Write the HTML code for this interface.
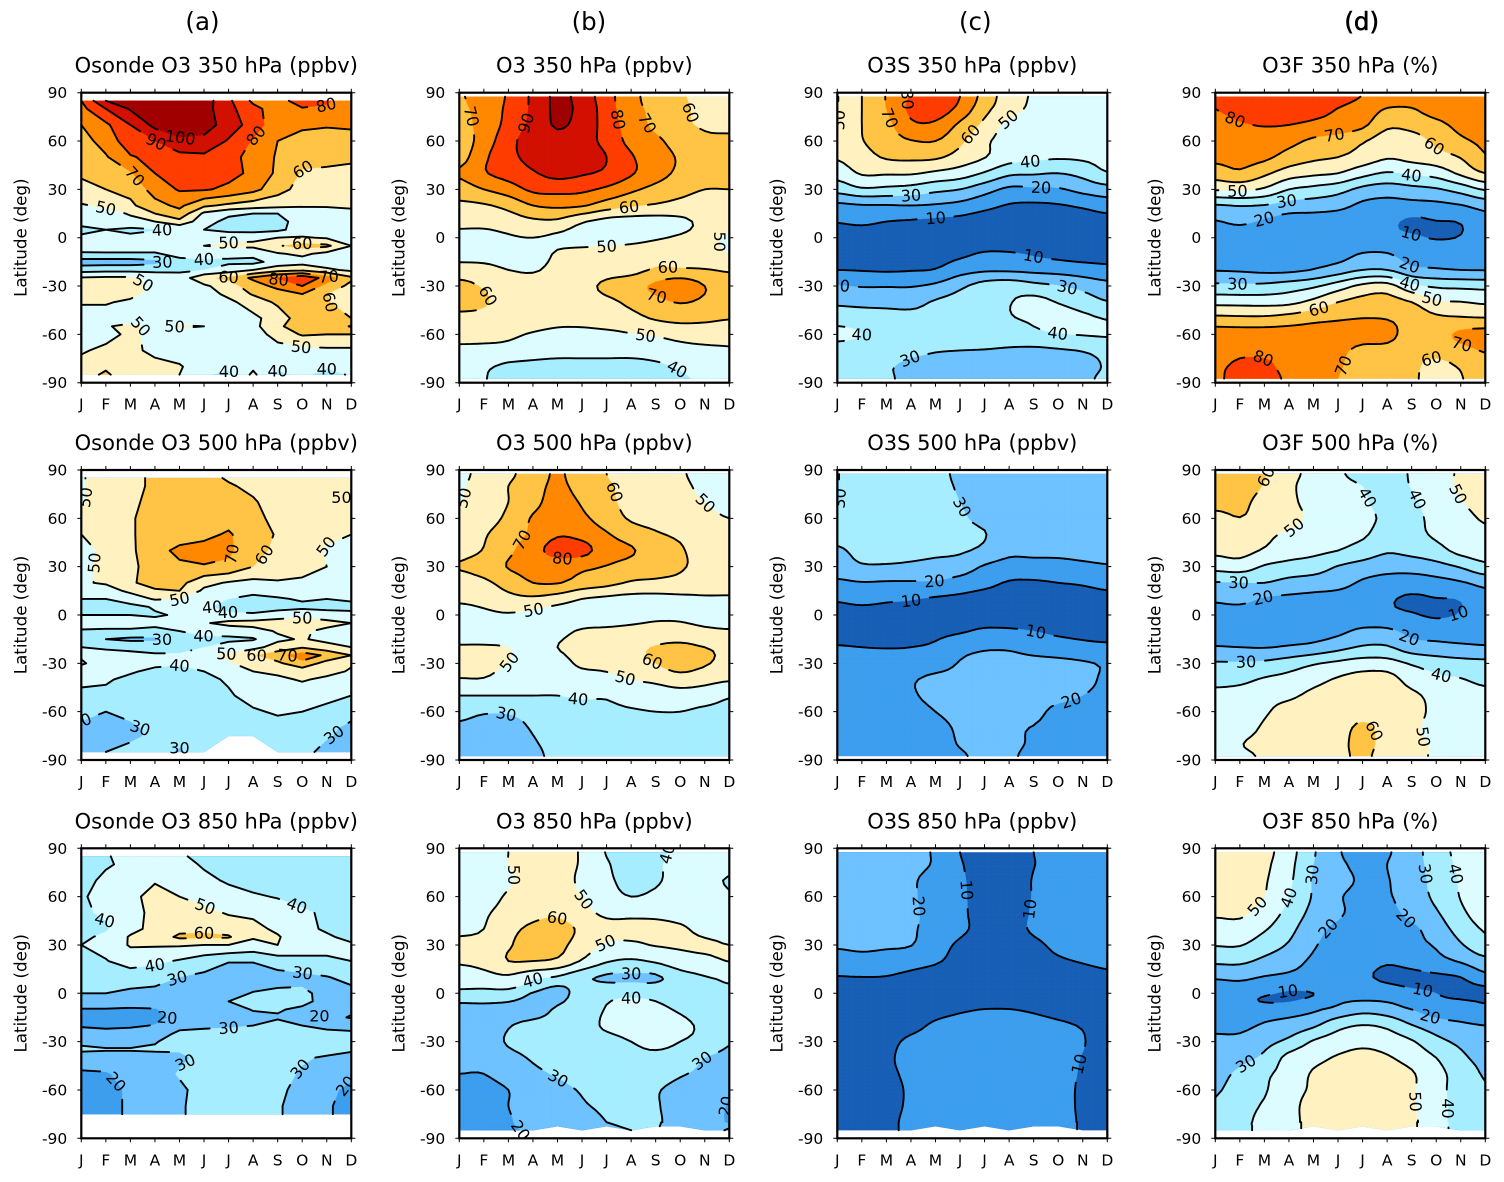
<!DOCTYPE html>
<html lang="en">
<head>
<meta charset="utf-8">
<title>Ozone latitude-month contour panels</title>
<style>
html,body{margin:0;padding:0;background:#fff;}
#figure{display:block;width:1504px;height:1182px;}
text{font-family:"DejaVu Sans","Liberation Sans",sans-serif;fill:#000;}
</style>
</head>
<body>
<svg id="figure" xmlns="http://www.w3.org/2000/svg" width="1504" height="1182" viewBox="0 0 1504 1182"></svg>
<script>
const NA = NaN;
const months = ['J','F','M','A','M','J','J','A','S','O','N','D'];
const latTicks = [90,60,30,0,-30,-60,-90];
const levels = [0,10,20,30,40,50,60,70,80,90,100];
const columnLetters = ['(a)','(b)','(c)','(d)'];

const latsStd = [87.5,80,70,60,50,40,30,20,10,0,-10,-20,-30,-40,-50,-60,-70,-80,-87.5];
const latsSonde350 = [85,80,70,60,50,40,30,20,15,10,5,0,-5,-10,-15,-20,-25,-30,-35,-40,-50,-55,-60,-70,-80,-85];
const latsSonde500 = [85,80,70,60,50,40,30,20,15,10,5,0,-5,-10,-15,-20,-25,-30,-35,-40,-50,-60,-70,-75,-85];
const latsSonde850 = [85,80,70,60,50,40,35,30,20,10,0,-5,-10,-15,-20,-25,-30,-35,-40,-50,-60,-70,-75];
const latsO3850 = [87.5,80,70,60,50,40,30,20,10,5,0,-10,-20,-30,-40,-50,-60,-70,-80,-82.5,-85];
const latsO3S850 = [87.5,80,70,60,50,40,30,20,10,0,-10,-20,-30,-40,-50,-60,-70,-80,-82.5,-85];
const latsO3F850 = [87.5,80,70,60,50,40,30,20,10,0,-5,-10,-20,-30,-40,-50,-60,-70,-80,-82.5,-85];

const sonde350 = [
[80,100,105,110,112,105,92,78,75,86,81,76],
[77,90,101,108,110,104,93,83,75,79,79,74],
[70,78,90,103,110,105,95,86,73,72,71,72],
[66,74,86,90,97,97,89,79,70,66,65,65],
[63,69,79,83,87,88,84,76,69,63,63,62],
[61,64,69,80,84,84,83,78,68,59,58,57],
[58,60,63,74,81,81,78,73,64,56,54,53],
[49,52,58,67,72,62,58,55,53,51,51,52],
[46,46,51,60,67,48,42,40,40,45,46,47],
[44,44,47,50,57,44,37,36,37,44,45,45],
[37,40,38,39.5,41,40,37,36,38,44,45,45],
[42,43,42,43,44,45,47,48,50,51,49,46],
[44,45,45,45,46,50,52,52,59,64,62,50],
[39,39,39,39,43,44,43,43,49,52,47,46],
[25,25,25,27,37,38,38,37,44,46,44,44],
[36,37,37,37,38,40,45,50,56,58,52,48],
[51,52,52,47,44,58,62,72,81,88,76,62],
[56,59,55,47,44,48,56,65,73,80,67,57],
[56,58,53,46,42,46,52,61,65,70,60,53],
[51,51,48,44,41,42,48,54,62,65,61,54],
[45,45,44,43,43,44,45,48,54,66,63,60],
[44,49,53,46,51,50,44,47,58,66,62,71],
[43,47,52,47,46,45,44,45,54,61,60,60],
[49,52,54,46,45,43,44,43,46,47,48,48],
[53,58,54,55,51,44,42,48,42,44,41,43],
[55,62,52,53,50,41,38,52,38,42,37,41]];
const sonde500 = [
[49,55,57,62,66,63,59,56,55,54,53,53],
[49,55,57,62,65,64,61,58,55,54,53,53],
[49,55,58,63,65,65,64,61,56,54,54,53],
[51,54,59,64,66,67,67,63,57,54,53,53],
[50,53,59,64,66,68,71,65,59,56,52,50],
[47,52,58,67,72,73,72,63,58,55,49,48],
[48,52,58,64,68.5,69.5,68,60,56,54,50,48],
[49,51,58,66,63,53,49,47,49,48,49,48],
[45,46,52,58,60,48,45,42,44,44,45,45],
[40,40,45,51,50,42,40,38,39,41,40,41],
[36,35,37,41,41,41,38,37,37,38,38,38],
[40,40,40,39,41,43,41,41,44,46,43,42],
[44,45,45,43,46,49,53,54,56,58,54,50],
[39,38,38,37,40,43,44,46,51,52,47,45],
[33,30,28,28,35,38,38,39,48,51,47,45],
[40,38,37,37,37,40,44,47,54,59,54,50],
[49,45,43,41,41,48,52,59,66,76,68,60],
[51,46,43,42,41,46,49,54,58,67,56,51],
[46,44,41,38,37,40,44,50,52,54,53,49],
[42,41,38,37,36,38,41,45,48,51,48,46],
[38,38,36,36,36,37,39,43,44,44,42,40],
[33,30,33,34,35,36,38,39,41,40,38,33],
[28,27,28,33,34,34,35,36,37,35,32,28],
[27,26,28,32,33,33,34,34,34,33,31,27],
[26,30,33,33,29,34,NA,NA,35,33,27,27]];
const sonde850 = [
[38,39.5,42,44,41,38,37,36,36,36,36,36],
[37,39,42,44,43,39,37,36,36,36,36,36],
[37,42,44,49,47,42,39,37,36,36,36,36],
[39,43,47,54,50,46,43,41,39.5,38,37,37],
[39,41,46,53,56,53,49,48,44,41,39,37],
[36,39,47,53,57,58,56,53,48,42,39,37],
[38,42,51,54,62,62,61,51,51,43,41,38],
[40,43,51,51,51,50,50,47,50,44,42,41],
[39,39.5,44,42,39,34.5,30.5,30.5,35,38,39,40],
[34,34,35,34,30,28,25,25,26,27,29.5,33],
[30,30,28,27,26,25,27,30.5,32,32,27,27],
[25,25,24,24,24,26,30,33,35,33,26,24],
[19.5,19.5,19,19.5,24,25,27,30.5,31,28,23,21],
[16,16,15,17,23,25,26.5,28,29,27,22,19.5],
[19,18,18.5,20.5,27,28,28.5,30,33,30,26,24],
[24,23,24,25,32,33,34,35,38,36,34,33],
[29,28,28,29.5,33,34,35,36,37,36,35,34],
[31,30.5,30.5,31,31,35,36,36,36,35,33,30.8],
[27,27,27,27,28,33,36,36,35,31,29,28],
[18,19,24,25,31,34,35,35,33,29,25,22],
[17,18,21,26,28,34,35,35,32,27,22,18],
[17,18,21,26,29,33,34,34,31,26,21,17],
[17,18,21,27,29,33,34,34,31,26,21,17]];

const o3350 = [
[69,75,81,92,102,96,84,73,66,61,58,58],
[68,74,82,92,102,97,85,73,68,62,58,58],
[66,74,83,93,101,96,86,75,68,62,59,58],
[64,75,86,96,97,94,87,77,72,66,62,62],
[66,78,87,93,96,95,90,81,74,69,65,64],
[71,79,84,89,93,91,88,81,74,68,65,64],
[65,70,75,82,83,82,78,72,67,63,60,60],
[58,59,63,70,72,71,65,61,59,57,56,56],
[53,53,55,58,58,51,47,46,46,48,52,53],
[47,47,49,50,48,46,46,47,49,51,52,49],
[48,48,48,46,51,53,54,55,57,56,54,50],
[53,52,50,49,53,54,56,57,61,61,60.5,59],
[64,59,56,55,55,57,62,66,72,77,70,64],
[64,61,56,55,55,56,58,62,67,70.5,68,64],
[57,57,55,54,52.5,53,55,57,61,63,62,60.5],
[53,53,51.5,49.3,48,47.6,48,49.5,51,53,54,53],
[48,47.5,47,45,44,44,44,44,45,47,48,49],
[43,41.5,38,37,36,36,36,36,38,41,43,44],
[42,40.5,36,35,34,34,34,34,36,39,41,42]];
const o3500 = [
[48,53,58,65,71,65,60,57,54,51,47,45],
[49,54,60,66,72,66,61,58,55,52,48,46],
[49.5,55,60,67,74,69,62,58,56,53,50,48],
[50.5,56,62,71,75,72,65,59,57,55,52,50],
[53,59,65,72,79,77,71,65,61,58.5,55,53],
[57,60.5,68,76,84,83,75,71,65,61,56,54],
[60.5,64,70.5,73,74,72,69.5,66,64,61,57,55],
[55.5,58,64,70,70.5,66,63,59,58,57,54,53],
[51.5,53,57,58,55,50,48,47,47,48,49,49],
[46,48,49,47,44,44,44,46,48,48,46,44],
[44,44,44,43,47,51,52,53,54,54,52,51],
[51,51,50,46,50,54,56,58,60.5,62,60,58],
[53,52,50,45,46,52,53,57,60,65,61,57],
[49.5,49.5,46,45,44,45,47,50,52,55,53,51],
[40,40,40,40,40,41,41,44,45,46,45,41],
[33.5,31,31,34,36,37,38,39,40,40,38,37],
[28,26,26,31,35,36,36,36,36,36,36,35],
[25,24,25,29,33,34,34,34,34,34,34,34],
[24,23,24,28,32,33,33,33,33,33,33,33]];
const o3850 = [
[42,46,50,52,53,49,39.5,36,38,42,42,42],
[42,46,50,52,53,49,41,36,39,42,42,42],
[43,46,49,53,54,48,42,37,39,43,42,39.5],
[45,47,51,55,54,50,44,40,42,44,44,41],
[47,49,53,57,58,53,48,48,48,47,46,45],
[48.5,50,57,62,64,58,53,52,52,51,48,47],
[51.5,53,59,64,63,55,49,48.5,50.5,51,51,50],
[51,53,60,60,58,49,41,38.7,41.3,46,48,50.2],
[45,47,48.5,43,39,33,28.5,28.5,28.5,36,39.5,42],
[42,42.5,44,36,30.5,33,32,32,32,37,38,39.5],
[37,36,35,29.5,27,34,38,38.8,38,36,35,35],
[26,27,27,27,31,35,40.5,42,41.5,39,35,34],
[25,25,29.5,32,33,37,41,43,43,42,38.5,38],
[24,25,31,34,36,38,38,40,42,40,37,31],
[22,23,27,31,34,36,38,38,38,36,30,28],
[20,20,24,28,31,35,37,37,35,31,28,26],
[16,17,20,25,27,31,35,36,31,27,25,21],
[16,17,20,25,26,29,32,36,31,26,24,19.5],
[15,16,19,24,26,27,30,32,31.5,25,23,19.5],
[15,16,19,22,25,26,29,31,31,25,23,20.5],
[15,16,19,21,NA,25,NA,30,NA,NA,22,19.5]];

const o3s350 = [
[49.7,60,70.5,81,86,80,66,55,49,47,46,45],
[49.7,60,70,82,85,77,63,54,48,46,45,44],
[49.7,60,67,78,78,68,57.5,47.5,46,45,44,43],
[52,59.5,65,69.5,70,62,52,46,44,44,44,44],
[50.8,56,61,62,61.5,56,50.4,44,42,41,41.5,43],
[44,51,51,51,48,45,39,32,31,30,33,39.5],
[33.5,38.5,37.5,36,32.5,30,24,18,18.5,19,23,26],
[17.8,19.3,19.5,20,19,17,13,9.3,8.5,9.3,11.5,14.4],
[10.5,12,10,9,8,7,5,4,4,4,5,6.5],
[5,4,4,4,4,4,4,3,3,3,4,4],
[6,6,6,6,6,8,11,11,9,7,6,6],
[10,9.5,9,9.5,10.5,16,18.5,18.5,17.5,16.5,14.7,12.9],
[20.5,19.5,19.5,19.5,22,28,34,36,33,30.5,27,23.3],
[28,27,27,27,31,34,37,39.5,43,39.5,35,30.5],
[37,36,34,33,33,36,37,39.5,41,44,42,39.5],
[41.5,40,36,35,35,36,37,37,38,39.5,40.5,41],
[37,36,34,32,30.5,30,29.5,28.5,28,29,30.5,33],
[34,33,31,28,27,26,25,25,25,25,26,31],
[34,33,31.5,27,26,25,25,25,25,25,27,33]];
const o3s500 = [
[29.7,35,35,34,33,28,27,26,26,26,26,26],
[29.7,35,35,34,33,29,27,26,26,26,26,26],
[29.7,35,35,34,33,30,27,26,26,26,26,26],
[31,35,34,34,33,31,28,26,26,26,26,26],
[32,33,34,34,33,32,30.3,26,25,25,25,25],
[29,32,33,33,32,31,28,22.5,23,23,24,25],
[26,29,29,28,26.6,25,19,16,15.5,16,17.5,19],
[18,19.5,19,19,19,16,13,9.2,9,10,11,13],
[11,12.5,11.3,10.5,9,8,6,5,5,5,6,7],
[7,7,7,7,7,6,5,4,4,5,5,5],
[7,7,7,7,8,9,11.5,11.5,10,8,7,6],
[10.5,10,9.7,10,11.5,17,19,19,17,15,13,12],
[14,14,14,14,16,20.5,22,22,22,22,21,19],
[15,15,16,19,22,22,23,23,23,23,23,18],
[15,15,16,19,22,23,23,23,23,22,20,17],
[15,15,16,17,20,22,23,22.5,22,18,17,16],
[14,14,15,16,18,21,23,21,19.7,17,16,15],
[14,14,15,16,17,20.5,23,21.5,19,16,15,15],
[14,14,15,16,17,19,22,21,18,16,15,15]];
const o3s850 = [
[25,25,24,22,19,10,5,5,10,12,12,12],
[25,25,24,22,19,11,5,5,9.8,12,12,12],
[25,25,24,21,17,12,4,5,10.5,13,13,13],
[25,25,24,21,17,12.5,4,5,10.5,13,13,13],
[25,25,24,21,18,12.5,5,5,11,13,13,13],
[25,25,24,21,17,12,7,7,11,13,13,13],
[21.5,22.5,21.5,20.3,14,8.5,5,6,8.5,11.5,13,13.5],
[14.5,16,15,13.5,11,7,4,5,7,9,10.5,11.5],
[9.7,9.9,9.7,8,6,5,4,4,4,5,7,8.5],
[7,7,7,6,5,5,5,5,5,5,5,6],
[7,7,7,7,8,9.2,10.1,10.1,9.2,8,7,6],
[7,7,7,8.5,10.8,12,13,13,12,11,9.6,8],
[7,7,8.5,11,12,13,14,14,14,13,10.3,8],
[7,7,9.2,11.5,13,14,14,14,14,12,9.8,8],
[7,7,9,11,13,14,14,14,14,12,9.5,8],
[7,7,8.5,10.7,13,14,14,14,14,12,9.2,8],
[7,7,8.7,10.7,13,14,14,14,14,12,9.2,8],
[7,7,9,11,13,14,14,14,14,12,9.4,8],
[7,7,9,11,13,14,14,14,14,12,9.4,8],
[7,7,9,11,NA,14,NA,14,NA,NA,9.4,8]];

const o3f350 = [
[81,86,87,87,86,83,79.7,76,75,77,80,78],
[80,84,86,85,83,79.8,76,69.5,69.5,75,77,76],
[76,79,80.5,80,78,76,72,62,63,67,73,76],
[73,77,76,73,68,65.5,61,55,56,62,68,72],
[72,73,72,66,62,60,56,51,53,56,60.5,69],
[65,68,62,55,52,50,43.5,39,41.6,44,52,60],
[51,52,48.5,40,37,33.8,27.4,25,27,29,34,41],
[29,30.5,29.5,26,25,23,18,16.4,16.8,17.5,19.5,23.7],
[19.5,21.5,18.7,15.5,15,14.5,14,12,8.5,9.7,10.5,16],
[16,16,16,15,14,14,13,12,11,9.6,10.4,14],
[17,16.5,16,15,15,16,20.5,20.5,15,15,15,16],
[19.5,19,18,18,20.5,25,30,30,23,21,20,19.7],
[32.5,32,32.5,35,38.4,45,52.4,54,42.5,38.6,37.7,37],
[47,46.8,46.5,47.5,52.8,60,63.5,64,60,51.5,50.3,48.5],
[62.5,62,62,64,67,69,70,69.5,66,62,61,60.5],
[75,75,75,75,75,74,73,74,64,66,72,74],
[75,78,78,78,77,72,68,66,62,63,67,70.7],
[78,82,82,77,75,71,66,64,62,57,61,66],
[78,84,84,78,73,70,66,64,62,55,59.5,64]];
const o3f500 = [
[64,63,60.5,53,47,41.5,37,36,41,47,51,55],
[64,63,59.5,52,46,43,40,36,40.5,47,51,54],
[63,62,57,52,47,44,41.5,36,38.5,44,49.5,53],
[57,59.8,56,53,48,45,43,38,38,42.5,47,51],
[54,55,52,48.5,46,44,41.5,35,37,41.5,45,48],
[52,53,49,45,42.5,40,35.5,31,33,36.5,43,46],
[43.5,45,39,36.3,34.5,29.5,26.3,24,24,26.5,30.8,37],
[29.4,29.7,30,27,25.5,24,18.5,15.5,15,16.5,19,23],
[21.5,23,19,18,17,15.5,13,11,8.8,9.7,10.5,16],
[16,15,15,14.5,15,14.5,13,12,10.7,9,10.5,14],
[16,15.5,15.5,15,15.5,17.8,22,22,17,16,15,15],
[20.5,20,19.6,21,23,27,31,31,24.5,23,22,21],
[31,31,32,35,39,42,44.4,44,39,35.5,33.5,32.5],
[36.5,37.5,41,43.3,47,51,54,54,46,42,40.5,37.5],
[43,44,47,48.5,52,54,55,55,52,47,45,43],
[44,45,49,53,54,55,56,56,53,48,46,44],
[44,46.5,51,54,55,56,62,56,52,47,45,44],
[44,49.5,52,54,55,57,63,56,52,49,46,44],
[44,48,51,53,55,57,62,55,52,49,46,44]];
const o3f850 = [
[57,56,53,44,31,21,16,19,26,35,43,46],
[57,56,52,43,30,22,18,20,26,34,42,46],
[57,56,51,42,29,23,19,19.5,25.5,33,41,47],
[56,55,50,40,29,21,18,19,25,32,40.5,47],
[52,52,46,37,27,21.5,16.5,17,23,29,38,45],
[45,46,41,33,23.5,18,15,15,18,25,34,41],
[40.5,40.5,35,29,21,16,13,13,17.5,21,29,37],
[32,32,27.7,23.6,18.5,15.5,13,10.7,13,17,21,27],
[21,22,19.5,18,16.5,15,11.5,8.5,8,8.5,10,17],
[15,14.5,11.5,9,10,14,15,14,11.5,10,7,6],
[16,13,9.5,9.7,13,18.5,20.5,19.5,16,12,11,9.5],
[17,16,16,16,18.5,23,27,25,20,15,13,11.5],
[18,18,21,24,28.5,37,40.3,38,30.5,25,22,20],
[22,22.5,27,32.4,41,45,47.5,45.5,41,33,28,25],
[24,27,32,43,47,51,53,51,46,40,32,27],
[27,32,38,44,51,54,56,55,51,43,36,29],
[29,34,39,47,51,54,56,55,51,44,35,31],
[31,37,41,48,52,55,56,55,51,44,36,32],
[32,38,42,48,52,55,56,55,52,43,37,33],
[32,38,42,48,52,55,56,55,52,43,37,33],
[32,38,42,48,NA,55,NA,55,NA,NA,37,33]];

const labelsSonde350 = [[100,4.05,60],[90,3,58],[80,6.9,66],[80,10,79],[70,2.1,37],[60,9,46.6],[50,1.05,23],[40,3.3,4],[50,6,-2.5],[60,9,-1],[40,5,-12],[30,4.1,-15],[50,2.9,-24],[60,6,-24],[80,8,-28],[70,10.1,-22],[60,10,-42],[50,2.5,-54],[50,3.6,-56],[50,9,-64],[40,6,-83],[40,8,-79],[40,10,-78]];
const labelsSonde500 = [[50,0.2,73],[50,10.6,73],[50,0.25,33],[50,9.8,44.5],[70,6.4,35],[60,7.7,34],[50,4,10],[40,5,8],[40,6,3],[50,9,0],[30,3.5,-17],[40,5,-11.5],[50,5.9,-23],[60,7,-23],[70,8.1,-24],[40,4,-29],[30,3.1,-64],[30,4,-79],[30,10.4,-75.6],[30,-0.05,-80]];
const labelsSonde850 = [[40,1,46.5],[50,5,52],[60,5,38],[40,8.8,55],[40,3,16.5],[30,4,5.5],[30,9,11],[20,4,-11.5],[20,9.7,-14],[30,6,-21],[30,4.5,-46.6],[30,8.8,-45.6],[20,1.5,-54],[20,10.7,-56]];
const labelsO3350 = [[70,0.7,76],[90,2.3,73],[80,6.65,74],[70,7.85,72],[60,9.7,78],[60,6.9,21],[50,6,-4.6],[50,10.5,-2.5],[60,8.5,-18],[60,1.35,-35],[70,8.05,-35.7],[50,7.6,-59.5],[40,9,-77]];
const labelsO3500 = [[50,0.27,72.4],[60,6.4,76.5],[50,10,69],[70,2.4,48.7],[80,4.2,35],[50,3,5],[50,2.4,-32],[60,7.85,-29],[50,6.8,-37],[40,4.85,-51],[30,1.9,-63]];
const labelsO3850 = [[50,2.05,72.4],[40,8.35,87],[50,5.05,58],[60,4,49.6],[50,5.9,33],[40,3,8],[30,7,13],[40,7,-2],[30,4.1,-50.8],[30,10,-43.5],[20,2.6,-85],[20,10.85,-70]];
const labelsO3S350 = [[50,0.1,73],[70,2.1,74],[80,2.95,85.5],[50,6.85,76],[60,5.35,65],[40,7.85,50],[30,3,27],[20,8.3,32.7],[10,4,13.6],[10,8,-10.8],[20,0.1,-29.5],[30,9.4,-29],[40,1.6,-57.4],[40,9,-57.4],[30,3,-77]];
const labelsO3S500 = [[30,0.1,72.4],[30,5.15,67.5],[20,3.95,23],[10,3,9.5],[10,8.1,-9.5],[20,9.5,-51.5]];
const labelsO3S850 = [[20,3.3,54],[10,5.2,64],[10,8,52],[10,9.9,-44]];
const labelsO3F350 = [[80,0.7,69],[70,4.8,69],[60,8.9,56.5],[50,0.9,28.5],[40,8,40],[30,2.9,23],[20,1.95,13.4],[10,8,4],[20,8,-14],[30,0.9,-29],[40,8,-25],[50,8.95,-32.5],[60,4.2,-43],[70,10.1,-63.6],[60,8.8,-74],[80,1.95,-75.6],[70,5.1,-79]];
const labelsO3F500 = [[60,2,86],[50,3,61.5],[40,6.4,74],[40,8.4,73.5],[50,10.15,77.6],[30,0.95,20],[20,1.95,10.5],[10,10,-1],[20,8,-11],[30,1.25,-28],[40,9.25,-34.4],[60,6.25,-73],[50,8.8,-73]];
const labelsO3F850 = [[50,1.65,55],[40,2.95,59.6],[30,4.05,73.4],[30,8.7,74.5],[40,9.9,74.5],[20,4.8,36.8],[20,7.8,47],[10,2.95,2],[10,8.45,2],[20,8.8,-12],[30,1.13,-40.4],[50,8.4,-67.3],[40,9.7,-71.5]];

const titles = [
['Osonde O3 350 hPa (ppbv)','O3 350 hPa (ppbv)','O3S 350 hPa (ppbv)','O3F 350 hPa (%)'],
['Osonde O3 500 hPa (ppbv)','O3 500 hPa (ppbv)','O3S 500 hPa (ppbv)','O3F 500 hPa (%)'],
['Osonde O3 850 hPa (ppbv)','O3 850 hPa (ppbv)','O3S 850 hPa (ppbv)','O3F 850 hPa (%)']];
const grids = [
[sonde350,o3350,o3s350,o3f350],
[sonde500,o3500,o3s500,o3f500],
[sonde850,o3850,o3s850,o3f850]];
const latRows = [
[latsSonde350,latsStd,latsStd,latsStd],
[latsSonde500,latsStd,latsStd,latsStd],
[latsSonde850,latsO3850,latsO3S850,latsO3F850]];
const labelSets = [
[labelsSonde350,labelsO3350,labelsO3S350,labelsO3F350],
[labelsSonde500,labelsO3500,labelsO3S500,labelsO3F500],
[labelsSonde850,labelsO3850,labelsO3S850,labelsO3F850]];

const bandColors = ['#185fb6','#3d9eee','#6ec2ff','#a6eeff','#dcfcff','#fff2c0','#ffc445','#ff8800','#ff3d00','#d21000','#a00000'];
const axisLeft = [81.3,459.3,837.3,1215.3];
const axisTop = [92.7,470,848.3];
const axisW = 270;
const axisH = 290;

const svg = document.getElementById('figure');
const NS = 'http://www.w3.org/2000/svg';
function make(tag, parent, props) {
  const el = document.createElementNS(NS, tag);
  for (const k in props) el.setAttribute(k, props[k]);
  parent.appendChild(el);
  return el;
}
function f(n) { return n.toFixed(2); }

function cubicWeights(t) {
  return [
    0.5 * (-t + 2 * t * t - t * t * t),
    0.5 * (2 - 5 * t * t + 3 * t * t * t),
    0.5 * (t + 4 * t * t - 3 * t * t * t),
    0.5 * (-t * t + t * t * t)
  ];
}
function sampleGrid(grid, r, c, u, v) {
  const rows = grid.length, cols = grid[0].length;
  const wr = cubicWeights(u), wc = cubicWeights(v);
  let sum = 0;
  for (let i = 0; i < 4; i++) {
    const rr = Math.max(0, Math.min(rows - 1, r - 1 + i));
    for (let j = 0; j < 4; j++) {
      const cc = Math.max(0, Math.min(cols - 1, c - 1 + j));
      const val = grid[rr][cc];
      if (isNaN(val)) {
        return (1 - u) * ((1 - v) * grid[r][c] + v * grid[r][c + 1]) + u * ((1 - v) * grid[r + 1][c] + v * grid[r + 1][c + 1]);
      }
      sum += wr[i] * wc[j] * val;
    }
  }
  return sum;
}
function cellPolygons(lats, grid, sx, sy, k) {
  const cells = [];
  for (let r = 0; r < lats.length - 1; r++) {
    for (let c = 0; c < 11; c++) {
      const raw = [[r,c],[r,c+1],[r+1,c+1],[r+1,c]];
      const poly = [];
      for (const p of raw) {
        const v = grid[p[0]][p[1]];
        if (!isNaN(v)) poly.push({x: sx(p[1]), y: sy(lats[p[0]]), v: v});
      }
      if (poly.length < 3) continue;
      if (poly.length === 3 || k === 1) { cells.push(poly); continue; }
      const pts = [];
      for (let a = 0; a <= k; a++) {
        const rowPts = [];
        const u = a / k;
        const lat = lats[r] + u * (lats[r + 1] - lats[r]);
        for (let b = 0; b <= k; b++) {
          const w = b / k;
          rowPts.push({x: sx(c + w), y: sy(lat), v: sampleGrid(grid, r, c, u, w)});
        }
        pts.push(rowPts);
      }
      for (let a = 0; a < k; a++) {
        for (let b = 0; b < k; b++) {
          cells.push([pts[a][b], pts[a][b + 1], pts[a + 1][b + 1], pts[a + 1][b]]);
        }
      }
    }
  }
  return cells;
}
function clipAbove(poly, t) {
  const out = [];
  for (let i = 0; i < poly.length; i++) {
    const a = poly[i], b = poly[(i + 1) % poly.length];
    if (a.v >= t) out.push(a);
    if ((a.v - t) * (b.v - t) < 0) {
      const u = (t - a.v) / (b.v - a.v);
      out.push({x: a.x + u * (b.x - a.x), y: a.y + u * (b.y - a.y), v: t});
    }
  }
  return out;
}
function contourSegments(cells, t) {
  const segs = [];
  for (const poly of cells) {
    const pts = [];
    for (let i = 0; i < poly.length; i++) {
      const a = poly[i], b = poly[(i + 1) % poly.length];
      if ((a.v - t) * (b.v - t) < 0) {
        const u = (t - a.v) / (b.v - a.v);
        pts.push([a.x + u * (b.x - a.x), a.y + u * (b.y - a.y)]);
      }
    }
    for (let i = 0; i + 1 < pts.length; i += 2) segs.push([pts[i], pts[i + 1]]);
  }
  return segs;
}
function nearestOnSegment(s, px, py) {
  const dx = s[1][0] - s[0][0], dy = s[1][1] - s[0][1];
  const len = dx * dx + dy * dy || 1;
  let u = ((px - s[0][0]) * dx + (py - s[0][1]) * dy) / len;
  u = Math.max(0, Math.min(1, u));
  const qx = s[0][0] + u * dx, qy = s[0][1] + u * dy;
  return {x: qx, y: qy, d: Math.hypot(qx - px, qy - py)};
}
function cutByCircle(segs, cx, cy, r) {
  const out = [];
  for (const s of segs) {
    const dx = s[1][0] - s[0][0], dy = s[1][1] - s[0][1];
    const fx = s[0][0] - cx, fy = s[0][1] - cy;
    const A = dx * dx + dy * dy, B = 2 * (fx * dx + fy * dy), C = fx * fx + fy * fy - r * r;
    const disc = B * B - 4 * A * C;
    if (A === 0 || disc <= 0) { out.push(s); continue; }
    const q = Math.sqrt(disc);
    const t1 = (-B - q) / (2 * A), t2 = (-B + q) / (2 * A);
    if (t2 <= 0 || t1 >= 1) { out.push(s); continue; }
    if (t1 > 0) out.push([s[0], [s[0][0] + t1 * dx, s[0][1] + t1 * dy]]);
    if (t2 < 1) out.push([[s[0][0] + t2 * dx, s[0][1] + t2 * dy], s[1]]);
  }
  return out;
}

columnLetters.forEach(function (letter, col) {
  const el = make('text', svg, {x: 202.5 + 386.4 * col, y: 30, 'text-anchor': 'middle', 'font-size': 24.5});
  
  
  if (col === 3) { el.style.stroke = '#000'; el.style.strokeWidth = '0.6px'; }
  el.textContent = letter;
});

grids.forEach(function (rowGrids, row) {
  rowGrids.forEach(function (grid, col) {
    const x0 = axisLeft[col], y0 = axisTop[row];
    const lats = latRows[row][col];
    const sx = function (m) { return x0 + m * axisW / 11; };
    const sy = function (lat) { return y0 + (90 - lat) * axisH / 180; };
    const panelKey = 'panel-r' + (row + 1) + '-' + 'abcd'[col];

    const g = make('g', svg, {});
    
    

    const title = make('text', g, {x: x0 + axisW / 2, y: y0 - 20, 'text-anchor': 'middle', 'font-size': 21});
    
    
    title.textContent = titles[row][col];

    const clipId = 'clip-' + row + '-' + col;
    const clip = make('clipPath', g, {id: clipId});
    make('rect', clip, {x: x0, y: y0, width: axisW, height: axisH});

    const plot = make('g', g, {'clip-path': 'url(#' + clipId + ')'});
    
    

    const cells = cellPolygons(lats, grid, sx, sy, col === 0 ? 1 : 4);
    const bandLows = [-1000].concat(levels.slice(1));
    bandLows.forEach(function (lo, b) {
      const t = lo + 0.001;
      let d = '';
      for (const poly of cells) {
        const c = clipAbove(poly, t);
        if (c.length < 3) continue;
        d += 'M' + c.map(function (p) { return f(p.x) + ' ' + f(p.y); }).join('L') + 'Z';
      }
      if (!d) return;
      const band = make('path', plot, {d: d, fill: bandColors[b], stroke: bandColors[b], 'stroke-width': 0.25});
      
      
    });

    const labels = labelSets[row][col];
    const placed = [];
    labels.forEach(function (spec) {
      const segs = contourSegments(cells, spec[0] + 0.001);
      const px = sx(spec[1]), py = sy(spec[2]);
      let best = null, bestSeg = null;
      for (const s of segs) {
        const q = nearestOnSegment(s, px, py);
        if (!best || q.d < best.d) { best = q; bestSeg = s; }
      }
      let angle = 0, lx = px, ly = py, snapped = false;
      if (best && best.d < 26) {
        snapped = true;
        lx = best.x; ly = best.y;
        let vx = bestSeg[1][0] - bestSeg[0][0], vy = bestSeg[1][1] - bestSeg[0][1];
        let sumx = 0, sumy = 0;
        for (const s of segs) {
          const mx = (s[0][0] + s[1][0]) / 2, my = (s[0][1] + s[1][1]) / 2;
          if (Math.hypot(mx - lx, my - ly) < 16) {
            let dx = s[1][0] - s[0][0], dy = s[1][1] - s[0][1];
            if (dx * vx + dy * vy < 0) { dx = -dx; dy = -dy; }
            sumx += dx; sumy += dy;
          }
        }
        if (sumx || sumy) { vx = sumx; vy = sumy; }
        angle = Math.atan2(vy, vx) * 180 / Math.PI;
        if (angle > 90) angle -= 180;
        if (angle < -90) angle += 180;
      }
      placed.push({level: spec[0], x: lx, y: ly, angle: angle, snapped: snapped});
    });

    levels.slice(1).forEach(function (level) {
      let segs = contourSegments(cells, level + 0.001);
      if (!segs.length) return;
      placed.forEach(function (p) {
        if (p.level === level && p.snapped) segs = cutByCircle(segs, p.x, p.y, level >= 100 ? 24 : 19);
      });
      let d = '';
      for (const s of segs) d += 'M' + f(s[0][0]) + ' ' + f(s[0][1]) + 'L' + f(s[1][0]) + ' ' + f(s[1][1]);
      const line = make('path', plot, {d: d, fill: 'none', stroke: '#000', 'stroke-width': 1.9, 'stroke-linecap': 'round', 'stroke-linejoin': 'round'});
      
      
    });

    placed.forEach(function (p) {
      const t = make('text', plot, {x: f(p.x), y: f(p.y), dy: '0.36em', 'text-anchor': 'middle', 'font-size': 16, transform: 'rotate(' + f(p.angle) + ' ' + f(p.x) + ' ' + f(p.y) + ')'});
      
      
      t.textContent = String(p.level);
    });

    const frame = make('rect', g, {x: x0, y: y0, width: axisW, height: axisH, fill: 'none', stroke: '#000', 'stroke-width': 2.2});
    
    

    months.forEach(function (label, m) {
      const x = sx(m);
      const tick = make('path', g, {d: 'M' + f(x) + ' ' + f(y0 + axisH) + 'v4M' + f(x) + ' ' + f(y0) + 'v-4', stroke: '#000', 'stroke-width': 1});
      
      
      const t = make('text', g, {x: f(x), y: f(y0 + axisH + 27), 'text-anchor': 'middle', 'font-size': 15.5});
      
      
      t.textContent = label;
    });
    latTicks.forEach(function (lat) {
      const y = sy(lat);
      const tick = make('path', g, {d: 'M' + f(x0) + ' ' + f(y) + 'h-4M' + f(x0 + axisW) + ' ' + f(y) + 'h4', stroke: '#000', 'stroke-width': 1});
      
      
      const t = make('text', g, {x: f(x0 - 14), y: f(y + 5.5), 'text-anchor': 'end', 'font-size': 15.5});
      
      
      t.textContent = String(lat);
    });
    const cy = y0 + axisH / 2;
    const yTitle = make('text', g, {x: f(x0 - 55), y: f(cy), 'text-anchor': 'middle', 'font-size': 16.7, transform: 'rotate(-90 ' + f(x0 - 55) + ' ' + f(cy) + ')'});
    
    
    yTitle.textContent = 'Latitude (deg)';
  });
});
</script>
</body>
</html>
